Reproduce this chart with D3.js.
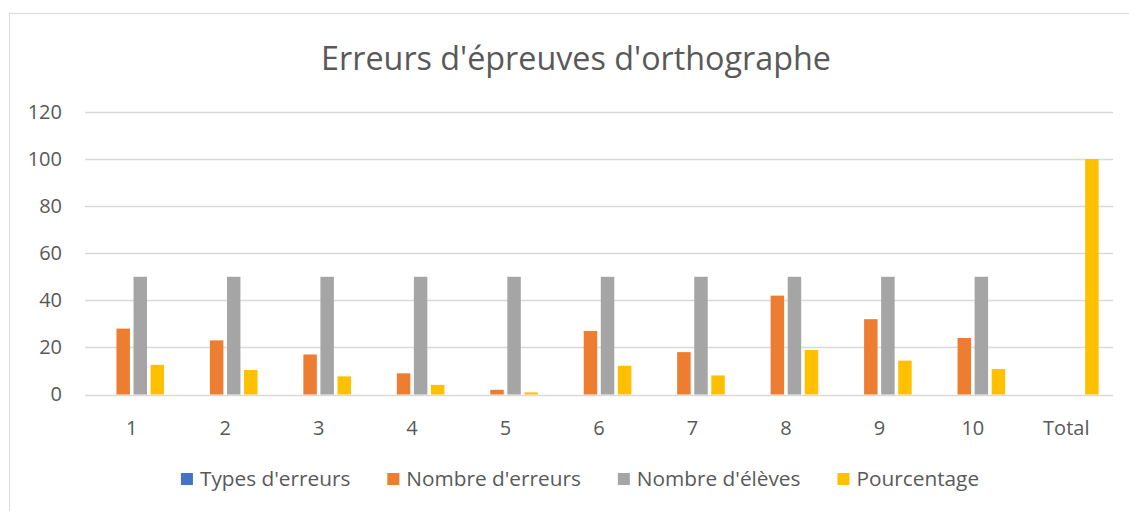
<!DOCTYPE html>
<html>
<head>
<meta charset="utf-8">
<script src="https://cdn.jsdelivr.net/npm/d3@7"></script>
<style>
  body { margin: 0; background: #fff; }
  text { font-family: "Open Sans", sans-serif; fill: #595959; }
</style>
</head>
<body>
<div id="vis"></div>
<script>

var categories = ['1', '2', '3', '4', '5', '6', '7', '8', '9', '10', 'Total'];
var seriesNames = ["Types d'erreurs", "Nombre d'erreurs", "Nombre d'élèves", "Pourcentage"];

// types d'erreurs: no visible bars
var typesErreurs = [0, 0, 0, 0, 0, 0, 0, 0, 0, 0, 0];
var nombreErreurs = [28, 23, 17, 9, 2, 27, 18, 42, 32, 24, 0];
var nombreEleves = [50, 50, 50, 50, 50, 50, 50, 50, 50, 50, 0];
var pourcentage = [12.6, 10.4, 7.7, 4.1, 0.9, 12.2, 8.1, 18.9, 14.4, 10.8, 100];

var yTicks = [0, 20, 40, 60, 80, 100, 120];

var colors = ['#4472C4', '#ED7D31', '#A5A5A5', '#FFC000'];

var width = 1129, height = 511;
var margin = { left: 85, right: 16, top: 112, bottom: 116.5 };

var svg = d3.select('#vis')
  .append('svg')
  .attr('width', width)
  .attr('height', height);

// chart area frame
svg.append('rect')
  .attr('x', 9.5)
  .attr('y', 13.5)
  .attr('width', 1160)
  .attr('height', 520)
  .attr('fill', '#fff')
  .attr('stroke', '#d9d9d9')
  .attr('stroke-width', 1);

var x0 = d3.scaleBand()
  .domain(categories)
  .range([margin.left, width - margin.right])
  .paddingInner(0.308)
  .paddingOuter(0.154);

var x1 = d3.scaleBand()
  .domain(seriesNames)
  .range([0, x0.bandwidth()])
  .paddingInner(0.21);

var y = d3.scaleLinear()
  .domain([0, 120])
  .range([height - margin.bottom, margin.top]);

// gridlines
svg.append('g')
  .selectAll('line')
  .data(yTicks)
  .enter().append('line')
  .attr('x1', margin.left)
  .attr('x2', width - margin.right)
  .attr('y1', function (d) { return Math.round(y(d)) + 0.5; })
  .attr('y2', function (d) { return Math.round(y(d)) + 0.5; })
  .attr('stroke', '#d9d9d9')
  .attr('stroke-width', 1.3);

var yAxis = d3.axisLeft(y).tickValues(yTicks).tickSize(0).tickPadding(23);
var gy = svg.append('g')
  .attr('transform', 'translate(' + margin.left + ',0)')
  .call(yAxis);
gy.select('.domain').remove();
gy.selectAll('text')
  .style('font-size', '20px')
  .style('font-family', '"Open Sans", sans-serif')
  .attr('fill', '#595959');

var xAxis = d3.axisBottom(x0).tickSize(0).tickPadding(26);
var gx = svg.append('g')
  .attr('transform', 'translate(0,' + y(0) + ')')
  .call(xAxis);
gx.select('.domain').remove();
gx.selectAll('text')
  .style('font-size', '20px')
  .style('font-family', '"Open Sans", sans-serif')
  .attr('fill', '#595959');

var allSeries = [typesErreurs, nombreErreurs, nombreEleves, pourcentage];
var rows = categories.map(function (c, i) {
  return {
    cat: c,
    values: seriesNames.map(function (s, j) {
      return { key: s, value: allSeries[j][i], color: colors[j] };
    })
  };
});

var groups = svg.append('g')
  .selectAll('g')
  .data(rows)
  .enter().append('g')
  .attr('transform', function (d) { return 'translate(' + x0(d.cat) + ',0)'; });

groups.selectAll('rect')
  .data(function (d) { return d.values.filter(function (v) { return v.value > 0; }); })
  .enter().append('rect')
  .attr('x', function (d) { return x1(d.key); })
  .attr('width', x1.bandwidth())
  .attr('y', function (d) { return y(d.value); })
  .attr('height', function (d) { return y(0) - y(d.value); })
  .attr('fill', function (d) { return d.color; });

// title
svg.append('text')
  .attr('x', 576)
  .attr('y', 70)
  .attr('text-anchor', 'middle')
  .style('font-size', '32.3px')
  .text("Erreurs d'épreuves d'orthographe");

// legend
var legend = svg.append('g');
var items = legend.selectAll('g')
  .data(seriesNames)
  .enter().append('g');

items.append('rect')
  .attr('width', 12)
  .attr('height', 12)
  .attr('y', 473)
  .attr('fill', function (d, i) { return colors[i]; });

items.append('text')
  .attr('x', 19)
  .attr('y', 486)
  .style('font-size', '20.8px')
  .text(function (d) { return d; });

var offsets = [], total = 0;
items.each(function () {
  var w = d3.select(this).select('text').node().getComputedTextLength() + 19;
  offsets.push(total);
  total += w + 37;
});
total -= 37;
var startX = 580 - total / 2;
items.attr('transform', function (d, i) { return 'translate(' + (startX + offsets[i]) + ',0)'; });

</script>
</body>
</html>
